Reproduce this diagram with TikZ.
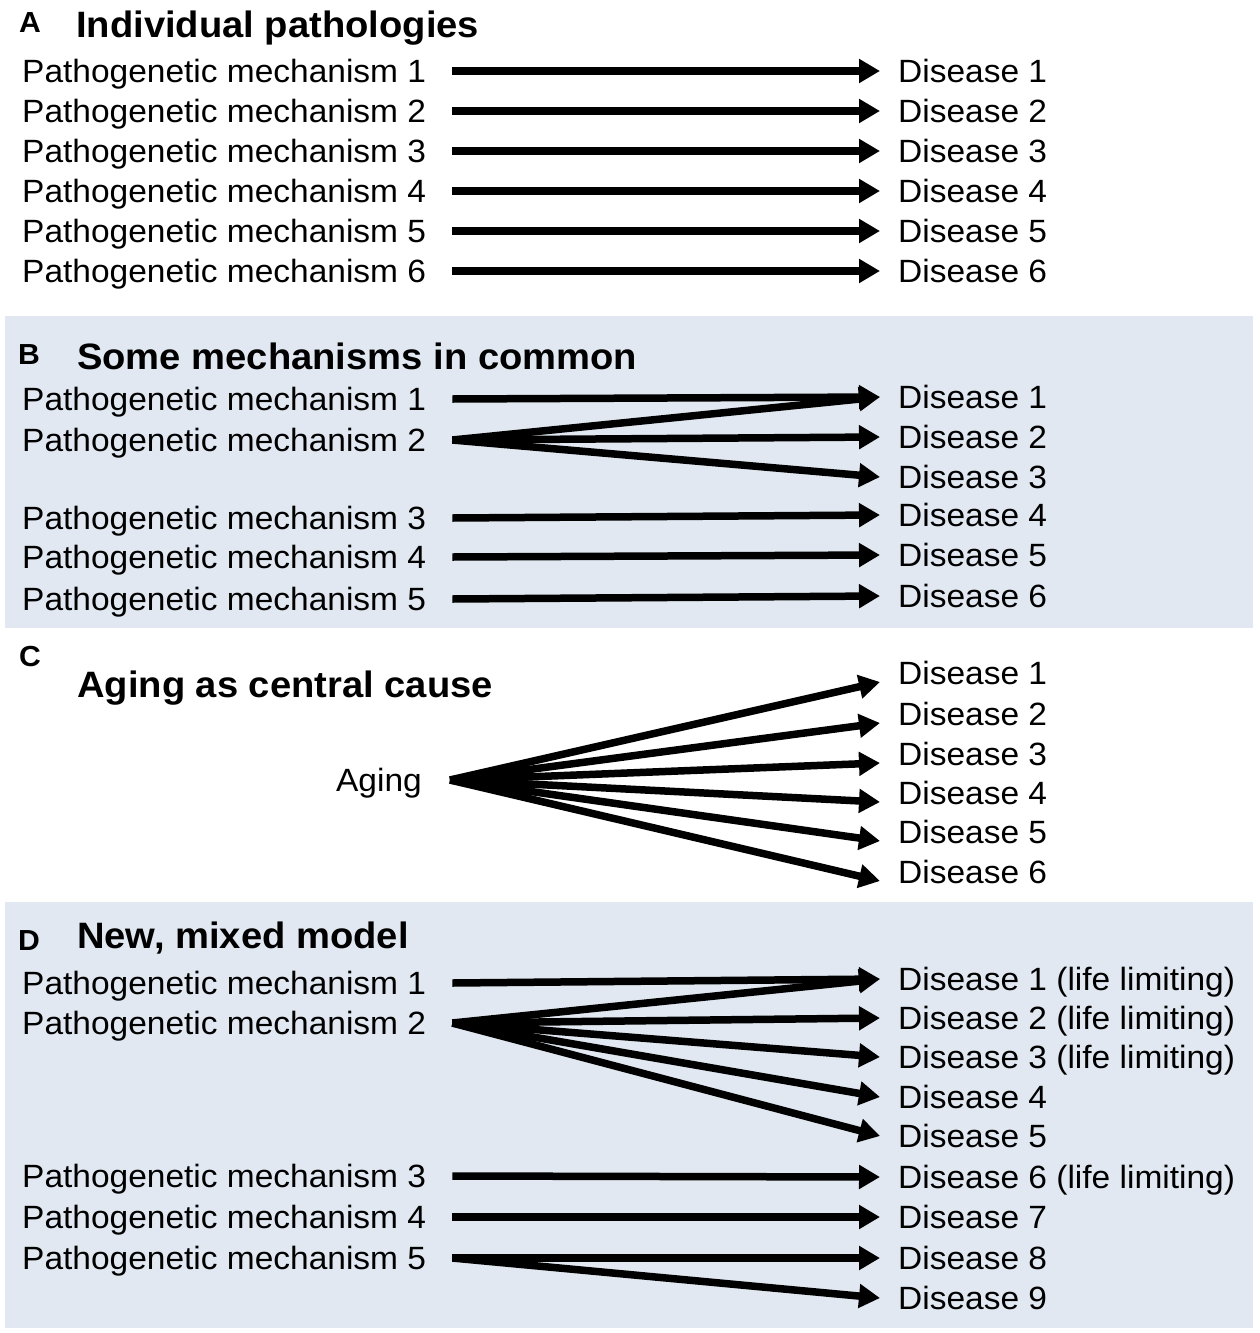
\documentclass[tikz,border=0pt]{standalone}
\usepackage{fontspec}
\setmainfont[FakeStretch=1.04]{Liberation Sans}
\usetikzlibrary{arrows.meta}
\definecolor{panelbg}{RGB}{225,232,241}
\tikzset{
  txt/.style={font=\fontsize{32.2}{38}\selectfont, inner sep=0pt, text height=23pt, text depth=0pt, anchor=west},
  ttl/.style={font=\bfseries\fontsize{36.7}{42}\selectfont, inner sep=0pt, anchor=base west},
  lab/.style={font=\bfseries\fontsize{29}{32}\selectfont, inner sep=0pt, anchor=base west},
  arr/.style={line width=7.5pt, -{Triangle[length=21pt,width=23pt]}},
  panel/.style={fill=panelbg, draw=none},
}
\begin{document}
\begin{tikzpicture}[x=1pt,y=-1pt]
\useasboundingbox (0,0) rectangle (1260,1333);
\fill[white] (0,0) rectangle (1260,1333);
\fill[panel] (5,316) rectangle (1253,628);
\fill[panel] (5,902) rectangle (1253,1328);

% ---------- Panel A
\node[lab] (lA) at (19,32) {A};
\node[ttl] (tA) at (76,37) {Individual pathologies};
\foreach \i/\y in {1/71,2/111,3/151,4/191,5/231,6/271}{
  \node[txt] (am\i) at (22,\y) {Pathogenetic mechanism \i};
  \node[txt] (ad\i) at (898,\y) {Disease \i};
  \draw[arr] ([xshift=26pt]am\i.east) -- ([xshift=-18pt]ad\i.west);
}

% ---------- Panel B
\node[lab] (lB) at (18,364) {B};
\node[ttl] (tB) at (77,369) {Some mechanisms in common};
\foreach \i/\y in {1/399,2/440,3/518,4/557,5/599}{
  \node[txt] (bm\i) at (22,\y) {Pathogenetic mechanism \i};
}
\foreach \i/\y in {1/397,2/437,3/477,4/515,5/555,6/596}{
  \node[txt] (bd\i) at (898,\y) {Disease \i};
}
\foreach \m/\d in {1/1,2/1,2/2,2/3,3/4,4/5,5/6}{
  \draw[arr] ([xshift=26pt]bm\m.east) -- ([xshift=-18pt]bd\d.west);
}

% ---------- Panel C
\node[lab] (lC) at (19,666) {C};
\node[ttl] (tC) at (77,697) {Aging as central cause};
\node[txt, anchor=east] (ag) at (422,780) {Aging};
\foreach \i/\y in {1/673,2/714,3/754,4/793,5/832,6/872}{
  \node[txt] (cd\i) at (898,\y) {Disease \i};
  \draw[arr] ([xshift=28pt]ag.east) -- ([xshift=-18pt,yshift=-9pt]cd\i.west);
}

% ---------- Panel D
\node[lab] (lD) at (18,950) {D};
\node[ttl] (tD) at (77,948) {New, mixed model};
\foreach \i/\y in {1/983,2/1023,3/1176,4/1217,5/1258}{
  \node[txt] (dm\i) at (22,\y) {Pathogenetic mechanism \i};
}
\node[txt] (dd1) at (898,979)  {Disease 1 (life limiting)};
\node[txt] (dd2) at (898,1018) {Disease 2 (life limiting)};
\node[txt] (dd3) at (898,1057) {Disease 3 (life limiting)};
\node[txt] (dd4) at (898,1097) {Disease 4};
\node[txt] (dd5) at (898,1136) {Disease 5};
\node[txt] (dd6) at (898,1177) {Disease 6 (life limiting)};
\node[txt] (dd7) at (898,1217) {Disease 7};
\node[txt] (dd8) at (898,1258) {Disease 8};
\node[txt] (dd9) at (898,1298) {Disease 9};
\foreach \m/\d in {1/1,2/1,2/2,2/3,2/4,2/5,3/6,4/7,5/8,5/9}{
  \draw[arr] ([xshift=26pt]dm\m.east) -- ([xshift=-18pt]dd\d.west);
}
\end{tikzpicture}
\end{document}
